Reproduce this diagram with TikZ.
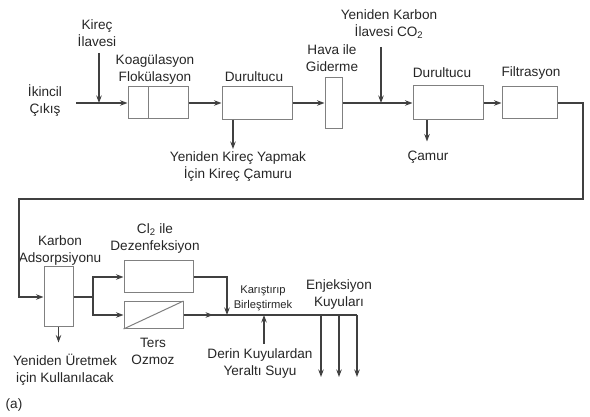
\documentclass[tikz,border=0pt]{standalone}
\usepackage{fontspec}
\setmainfont{Liberation Sans}
\usetikzlibrary{arrows.meta,decorations.markings}
\tikzset{
	box/.style={draw=black!50,line width=1pt,inner sep=0pt},
	lbl/.style={text=black!85,align=center,inner sep=0pt,font=\fontsize{13.6}{17}\selectfont},
	smalllbl/.style={lbl,font=\fontsize{11.2}{15}\selectfont},
	pipe/.style={draw=black!75,line width=1.1pt},
	flow/.style={pipe,-{Stealth[length=7.5pt,width=5.5pt]}},
	midflow/.style={pipe,postaction={decorate},decoration={markings,mark=at position #1 with {\arrow{Stealth[length=7.5pt,width=5.5pt]}}}}
}
\begin{document}
\begin{tikzpicture}[x=1pt,y=-1pt]
			\useasboundingbox (0,0) rectangle (590,417);
			% boxes
			\node[box,minimum width=60pt,minimum height=32pt] (coag) at (158,103) {};
			\node[box,minimum width=70pt,minimum height=33pt] (dur1) at (257,103) {};
			\node[box,minimum width=17pt,minimum height=51pt] (hava) at (333.5,103) {};
			\node[box,minimum width=70pt,minimum height=34pt] (dur2) at (448,103) {};
			\node[box,minimum width=55pt,minimum height=32pt] (filt) at (529.5,103) {};
			\node[box,minimum width=29pt,minimum height=60pt] (carb) at (58.5,297) {};
			\node[box,minimum width=69pt,minimum height=32pt] (cl2) at (158.5,277) {};
			\node[box,minimum width=59pt,minimum height=27pt] (ro) at (153.5,315) {};
			\draw[box] ([xshift=-10pt]coag.north) -- ([xshift=-10pt]coag.south);
			\draw[box] (ro.south west) -- (ro.north east);
			% labels
			\node[lbl] (ikincil) at (45,101) {İkincil\\Çıkış};
			\node[lbl] (kirec) at (97,33) {Kireç\\İlavesi};
			\node[lbl] (koaglbl) at (155,69) {Koagülasyon\\Flokülasyon};
			\node[lbl] (dur1lbl) at (254,77) {Durultucu};
			\node[lbl] (kirecCamur) at (238,167) {Yeniden Kireç Yapmak\\İçin Kireç Çamuru};
			\node[lbl] (havalbl) at (332,58) {Hava ile\\Giderme};
			\node[lbl] (co2lbl) at (389,24) {Yeniden Karbon\\İlavesi CO\textsubscript{2}};
			\node[lbl] (dur2lbl) at (442,73) {Durultucu};
			\node[lbl] (camur) at (428,157) {Çamur};
			\node[lbl] (filtlbl) at (531,73) {Filtrasyon};
			\node[lbl] (carblbl) at (60,250) {Karbon\\Adsorpsiyonu};
			\node[lbl] (uretmek) at (65,370) {Yeniden Üretmek\\için Kullanılacak};
			\node[lbl] (cl2lbl) at (155,238) {Cl\textsubscript{2} ile\\Dezenfeksiyon};
			\node[lbl] (rolbl) at (153,351) {Ters\\Ozmoz};
			\node[smalllbl] (karis) at (263,298) {Karıştırıp\\Birleştirmek};
			\node[lbl] (derin) at (260,363) {Derin Kuyulardan\\Yeraltı Suyu};
			\node[lbl] (enj) at (339,294) {Enjeksiyon\\Kuyuları};
			\node[lbl] (fig) at (14,405) {(a)};
			% points
			\coordinate (in) at (76,103);
			\coordinate (kin) at (99,53);
			\coordinate (co2in) at (381,47);
			\coordinate (r1) at (583,199);
			\coordinate (l1) at (19,199);
			\coordinate (sp) at (93,297);
			\coordinate (mix) at (227,315);
			\coordinate (gw) at (264,344);
			\coordinate (w1) at (321,315);
			\coordinate (w2) at (339,315);
			\coordinate (w3) at (357,315);
			% top row
			\draw[flow] (in) -- (coag.west);
			\draw[flow] (kin) -- (kin |- in);
			\draw[flow] (coag) -- (dur1);
			\draw[flow] ([xshift=-24pt]dur1.south) -- ++(0,29);
			\draw[flow] (dur1) -- (hava);
			\draw[flow] (hava) -- (dur2);
			\draw[flow] (co2in) -- (co2in |- dur2.west);
			\draw[flow] ([xshift=-21pt]dur2.south) -- ++(0,21);
			\draw[flow] (dur2) -- (filt);
			\draw[flow] (filt.east) -| (r1) -- (l1) |- (carb.west);
			% bottom row
			\draw[flow] (carb.south) -- ++(0,15);
			\draw[pipe] (carb.east) -- (sp);
			\draw[flow] (sp) |- (cl2.west);
			\draw[flow] (sp) |- (ro.west);
			\draw[flow] (cl2.east) -| (mix);
			\draw[midflow=0.68] (ro.east) -- (mix);
			\draw[pipe] (mix) -- (w3);
			\draw[flow] (gw) -- (gw |- mix);
			\foreach \w in {w1,w2,w3}
				\draw[flow] (\w) -- ++(0,62);
		\end{tikzpicture}
\end{document}
